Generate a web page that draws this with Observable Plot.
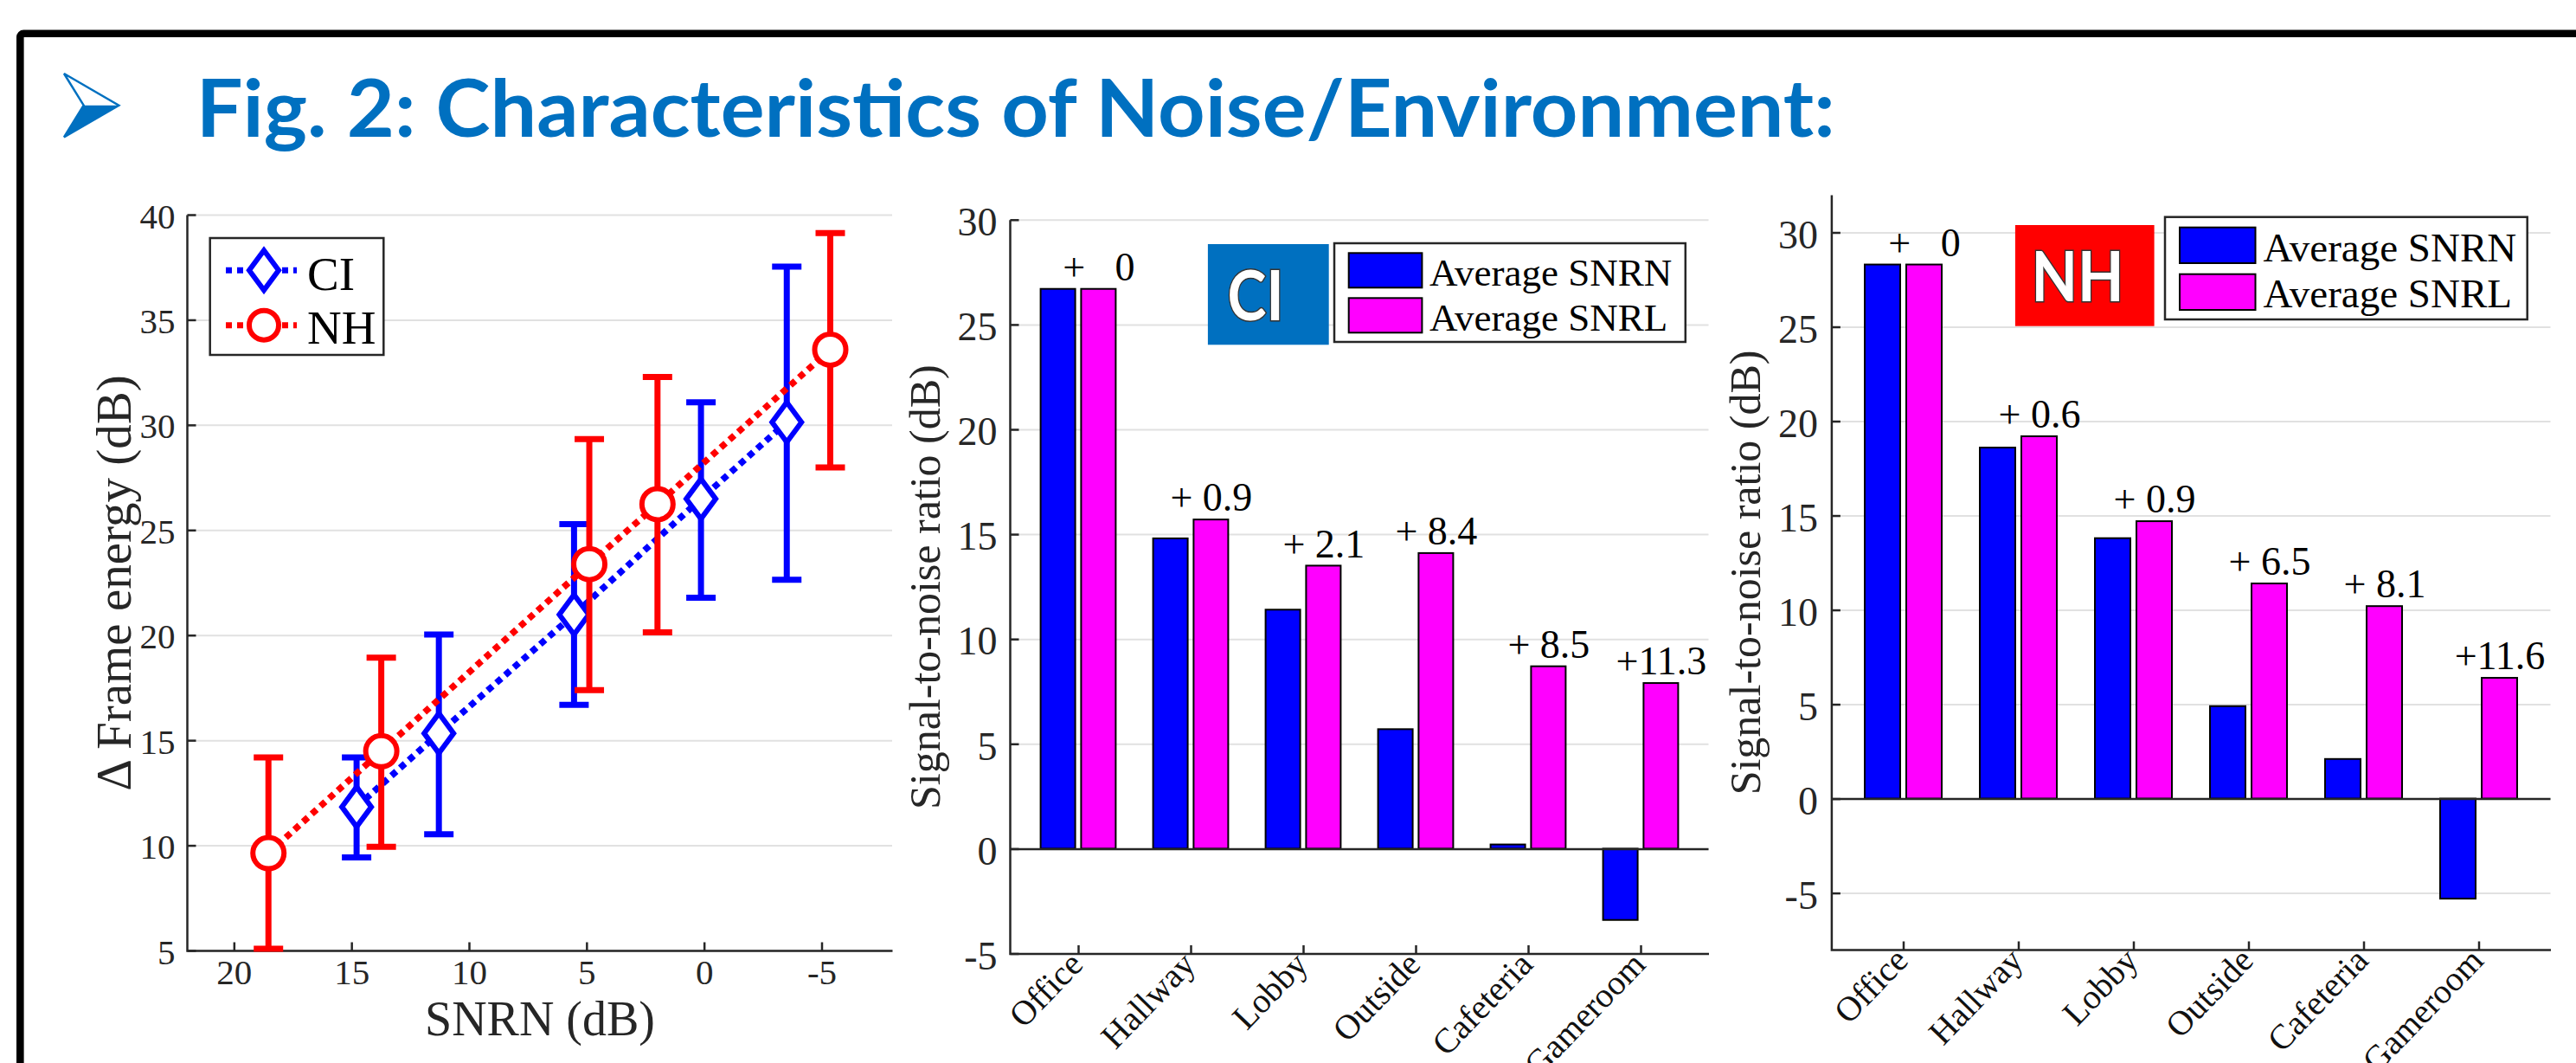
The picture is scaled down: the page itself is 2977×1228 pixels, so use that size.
<!DOCTYPE html>
<html>
<head>
<meta charset="utf-8">
<script src="https://cdn.jsdelivr.net/npm/d3@7"></script>
<script src="https://cdn.jsdelivr.net/npm/@observablehq/plot@0.6"></script>
<style>
html, body { margin: 0; padding: 0; background: #fff; }
#root { position: relative; width: 2977px; height: 1228px; overflow: hidden; background: #fff; }
#root > svg { position: absolute; top: 0; }
</style>
</head>
<body>
<div id="root"></div>
<script>
// ---------------- data ----------------
const titleText = "Fig. 2: Characteristics of Noise/Environment:";

// Panel 1: Δ frame energy vs SNRN
const snrnTicks = [20, 15, 10, 5, 0, -5];
const energyTicks = [5, 10, 15, 20, 25, 30, 35, 40];
const seriesNames = ["CI", "NH"];
const ciSNRN   = [14.8, 11.3, 5.55, 0.15, -3.5];
const ciEnergy = [11.85, 15.35, 21.0, 26.5, 30.15];
const ciLow    = [9.45, 10.55, 16.7, 21.8, 22.65];
const ciHigh   = [14.2, 20.05, 25.3, 31.1, 37.55];
const nhSNRN   = [18.55, 13.75, 4.9, 2.0, -5.35];
const nhEnergy = [9.65, 14.5, 23.4, 26.25, 33.6];
const nhLow    = [5.1, 9.95, 17.4, 20.15, 28.0];
const nhHigh   = [14.2, 18.95, 29.35, 32.3, 39.15];

// Panels 2 & 3: average SNR per environment
const environments = ["Office", "Hallway", "Lobby", "Outside", "Cafeteria", "Gameroom"];
const barSeries = ["Average SNRN", "Average SNRL"];
const ciAvgSNRN = [26.7, 14.8, 11.4, 5.7, 0.2, -3.4];
const ciAvgSNRL = [26.7, 15.7, 13.5, 14.1, 8.7, 7.9];
const ciGainLabels = ["+\u00A0\u00A0\u00A00", "+ 0.9", "+ 2.1", "+ 8.4", "+ 8.5", "+11.3"];
const nhAvgSNRN = [28.3, 18.6, 13.8, 4.9, 2.1, -5.3];
const nhAvgSNRL = [28.3, 19.2, 14.7, 11.4, 10.2, 6.4];
const nhGainLabels = ["+\u00A0\u00A0\u00A00", "+ 0.6", "+ 0.9", "+ 6.5", "+ 8.1", "+11.6"];
const snrTicks = [-5, 0, 5, 10, 15, 20, 25, 30];

// ---------------- styles ----------------
const blue = "#0000FF", red = "#FF0000", magenta = "#FF00FF";
const axisColor = "#262626", gridColor = "#e1e1e1";
const serif = "'Liberation Serif', 'Times New Roman', serif";
const H = 1228;
const root = document.getElementById("root");

// custom symbols (pixel sizes are styling)
const diamond = {draw(ctx) { const hw = 17, hh = 23; ctx.moveTo(0, -hh); ctx.lineTo(hw, 0); ctx.lineTo(0, hh); ctx.lineTo(-hw, 0); ctx.closePath(); }};
const circle = {draw(ctx) { ctx.moveTo(18, 0); ctx.arc(0, 0, 18, 0, 2 * Math.PI); }};
const cap = {draw(ctx) { ctx.moveTo(-17, 0); ctx.lineTo(17, 0); }};
const htick = {draw(ctx) { ctx.moveTo(0, 0); ctx.lineTo(10, 0); }};
const vtick = {draw(ctx) { ctx.moveTo(0, 0); ctx.lineTo(0, -10); }};

function axesLB(w, ml, mr, mt, mb) {
  const W = w - ml - mr, Hh = H - mt - mb;
  return Plot.frame({stroke: axisColor, strokeWidth: 2.5, strokeDasharray: `0,${W + Hh},${W + Hh + 10}`});
}
const baseStyle = {background: "transparent", overflow: "visible", fontFamily: serif, color: axisColor};

function place(svg, left) { svg.style.left = left + "px"; svg.style.top = "0px"; svg.style.position = "absolute"; root.appendChild(svg); }

// ---------------- Panel 1 ----------------
const ciRows = ciSNRN.map((x, i) => ({x, y: ciEnergy[i], lo: ciLow[i], hi: ciHigh[i]}));
const nhRows = nhSNRN.map((x, i) => ({x, y: nhEnergy[i], lo: nhLow[i], hi: nhHigh[i]}));

function errorSeries(rows, color, symbol) {
  return [
    Plot.ruleX(rows, {x: "x", y1: "lo", y2: "hi", stroke: color, strokeWidth: 7}),
    Plot.dot(rows, {x: "x", y: "lo", symbol: cap, fill: "none", stroke: color, strokeWidth: 7}),
    Plot.dot(rows, {x: "x", y: "hi", symbol: cap, fill: "none", stroke: color, strokeWidth: 7}),
    Plot.line(rows, {x: "x", y: "y", stroke: color, strokeWidth: 7.5, strokeDasharray: "7.5,6", strokeLinecap: "butt"}),
    Plot.dot(rows, {x: "x", y: "y", symbol, fill: "white", stroke: color, strokeWidth: 6})
  ];
}

const p1 = {w: 1040, ml: 216, mr: 9, mt: 248, mb: 130};
const chart1 = Plot.plot({
  width: p1.w, height: H, marginLeft: p1.ml, marginRight: p1.mr, marginTop: p1.mt, marginBottom: p1.mb,
  style: baseStyle,
  x: {type: "linear", domain: [22, -8], axis: null},
  y: {type: "linear", domain: [5, 40], axis: null},
  marks: [
    Plot.ruleY(energyTicks, {stroke: gridColor, strokeWidth: 2}),
    axesLB(p1.w, p1.ml, p1.mr, p1.mt, p1.mb),
    Plot.dot(snrnTicks, {x: d => d, frameAnchor: "bottom", symbol: vtick, fill: "none", stroke: axisColor, strokeWidth: 2.5}),
    Plot.dot(energyTicks, {y: d => d, frameAnchor: "left", symbol: htick, fill: "none", stroke: axisColor, strokeWidth: 2.5}),
    Plot.text(energyTicks, {y: d => d, frameAnchor: "left", text: d => String(d), textAnchor: "end", dx: -14, dy: 2, fontSize: 41, fill: axisColor}),
    Plot.text(snrnTicks, {x: d => d, frameAnchor: "bottom", text: d => String(d), textAnchor: "middle", dy: 38, fontSize: 41, fill: axisColor}),
    Plot.text(["SNRN (dB)"], {frameAnchor: "bottom", text: d => d, textAnchor: "middle", dy: 97, fontSize: 56, fill: axisColor}),
    Plot.text(["\u0394 Frame energy (dB)"], {frameAnchor: "left", text: d => d, textAnchor: "middle", rotate: -90, dx: -84, fontSize: 57, fill: axisColor}),
    ...errorSeries(ciRows, blue, diamond),
    ...errorSeries(nhRows, red, circle)
  ]
});
place(chart1, 0);

// ---------------- Panels 2 & 3 ----------------
function barPanel(cfg) {
  const rows = environments.map((e, i) => ({env: e, snrn: cfg.snrn[i], snrl: cfg.snrl[i], label: cfg.labels[i]}));
  return Plot.plot({
    width: cfg.w, height: H, marginLeft: cfg.ml, marginRight: cfg.mr, marginTop: cfg.mt, marginBottom: cfg.mb,
    style: baseStyle,
    x: {type: "band", domain: environments, paddingInner: 0.69, paddingOuter: 0.448, axis: null},
    y: {type: "linear", domain: cfg.ydomain, axis: null},
    marks: [
      Plot.ruleY(snrTicks, {stroke: gridColor, strokeWidth: 2}),
      Plot.barY(rows, {x: "env", y: "snrn", dx: -cfg.off, fill: blue, stroke: "#000", strokeWidth: 2}),
      Plot.barY(rows, {x: "env", y: "snrl", dx: cfg.off, fill: magenta, stroke: "#000", strokeWidth: 2}),
      Plot.ruleY([0], {stroke: axisColor, strokeWidth: 2.5}),
      axesLB(cfg.w, cfg.ml, cfg.mr, cfg.mt, cfg.mb),
      Plot.dot(environments, {x: d => d, frameAnchor: "bottom", symbol: vtick, fill: "none", stroke: axisColor, strokeWidth: 2.5}),
      Plot.dot(snrTicks, {y: d => d, frameAnchor: "left", symbol: htick, fill: "none", stroke: axisColor, strokeWidth: 2.5}),
      Plot.text(snrTicks, {y: d => d, frameAnchor: "left", text: d => String(d), textAnchor: "end", dx: cfg.tickDx, dy: 3, fontSize: 46, fill: axisColor}),
      Plot.text(environments, {x: d => d, frameAnchor: "bottom", text: d => d, rotate: -46, textAnchor: "end", dx: 7, dy: 14, fontSize: 40, fill: "#111"}),
      Plot.text(["Signal-to-noise ratio (dB)"], {frameAnchor: "left", text: d => d, textAnchor: "middle", rotate: -90, dx: cfg.labelDx, fontSize: 50, fill: axisColor}),
      Plot.text(rows, {x: "env", y: "snrl", text: "label", textAnchor: "middle", dx: cfg.off, dy: -25, fontSize: 46, fill: "#000"})
    ]
  });
}

const chart2 = barPanel({w: 950, ml: 127, mr: 15.5, mt: 253.8, mb: 126.5, ydomain: [-5, 30], off: 23.4,
  snrn: ciAvgSNRN, snrl: ciAvgSNRL, labels: ciGainLabels, tickDx: -15, labelDx: -98});
place(chart2, 1040);

const chart3 = barPanel({w: 987, ml: 126.4, mr: 29.5, mt: 224.9, mb: 131, ydomain: [-8, 32], off: 24,
  snrn: nhAvgSNRN, snrl: nhAvgSNRL, labels: nhGainLabels, tickDx: -16, labelDx: -99});
place(chart3, 1990);

// ---------------- overlay: frame, title, legends, badges ----------------
const ov = d3.create("svg").attr("width", 2977).attr("height", H)
  .style("position", "absolute").style("left", "0px").style("top", "0px");

ov.append("rect").attr("x", 23.3).attr("y", 38.8).attr("width", 3100).attr("height", 1400).attr("rx", 4)
  .attr("fill", "none").attr("stroke", "#000").attr("stroke-width", 8.6);

const titleBlue = "#0070C0";
ov.append("path").attr("d", "M74,85 L137.3,121.7 L74,158.3 L96.7,121.7 Z")
  .attr("fill", "white").attr("stroke", titleBlue).attr("stroke-width", 2.5).attr("stroke-linejoin", "miter");
ov.append("path").attr("d", "M96.7,121.7 L137.3,121.7 L74,158.3 Z").attr("fill", titleBlue);
ov.append("text").attr("x", 226.7).attr("y", 158.3)
  .attr("font-family", "Lato, 'Open Sans', sans-serif").attr("font-weight", 700).attr("font-size", 91)
  .attr("fill", titleBlue).attr("textLength", 1894).attr("lengthAdjust", "spacingAndGlyphs").text(titleText);

// legend panel 1
ov.append("rect").attr("x", 242.7).attr("y", 275).attr("width", 200.6).attr("height", 135)
  .attr("fill", "white").attr("stroke", axisColor).attr("stroke-width", 2.5);
[[seriesNames[0], blue, 312.3, 335, "d"], [seriesNames[1], red, 375.7, 396.7, "c"]].forEach(([name, col, ly, by, m]) => {
  ov.append("line").attr("x1", 261).attr("x2", 343).attr("y1", ly).attr("y2", ly)
    .attr("stroke", col).attr("stroke-width", 7).attr("stroke-dasharray", "7,6");
  if (m === "d") {
    ov.append("path").attr("d", `M305,${ly - 23} L322,${ly} L305,${ly + 23} L288,${ly} Z`)
      .attr("fill", "white").attr("stroke", col).attr("stroke-width", 6);
  } else {
    ov.append("circle").attr("cx", 305).attr("cy", ly).attr("r", 17)
      .attr("fill", "white").attr("stroke", col).attr("stroke-width", 6);
  }
  ov.append("text").attr("x", 355).attr("y", by).attr("font-family", serif).attr("font-size", 55)
    .attr("fill", "#000").text(name);
});

// bar legends
function barLegend(b) {
  ov.append("rect").attr("x", b.x).attr("y", b.y).attr("width", b.w).attr("height", b.h)
    .attr("fill", "white").attr("stroke", axisColor).attr("stroke-width", 2.5);
  [[barSeries[0], blue, b.s1, b.t1], [barSeries[1], magenta, b.s2, b.t2]].forEach(([name, col, sy, ty]) => {
    ov.append("rect").attr("x", b.sx).attr("y", sy).attr("width", b.sw).attr("height", b.sh)
      .attr("fill", col).attr("stroke", "#000").attr("stroke-width", 2);
    ov.append("text").attr("x", b.tx).attr("y", ty).attr("font-family", serif).attr("font-size", b.fs)
      .attr("fill", "#000").text(name);
  });
}
barLegend({x: 1542, y: 281, w: 405.8, h: 114, sx: 1558.7, sw: 84.7, sh: 40, s1: 292.3, s2: 344.3, tx: 1651.9, t1: 330, t2: 381.7, fs: 45});
barLegend({x: 2502, y: 250.7, w: 418.7, h: 118.3, sx: 2519, sw: 87.5, sh: 41.3, s1: 262.7, s2: 316.7, tx: 2615.4, t1: 301.7, t2: 355, fs: 47});

// badges
function badge(x, y, w, h, fill, label, cx, base, tl) {
  ov.append("rect").attr("x", x).attr("y", y).attr("width", w).attr("height", h).attr("fill", fill);
  ov.append("text").attr("x", cx).attr("y", base).attr("text-anchor", "middle")
    .attr("font-family", "Lato, 'Open Sans', sans-serif").attr("font-weight", 700).attr("font-size", 81)
    .attr("fill", "white").attr("stroke", "#333").attr("stroke-width", 3).attr("paint-order", "stroke")
    .attr("textLength", tl).attr("lengthAdjust", "spacingAndGlyphs").text(label);
}
badge(1395.9, 282, 139.8, 116.3, "#0070C0", seriesNames[0], 1451, 370, 65);
badge(2328.9, 260, 160.7, 116.7, "#FF0000", seriesNames[1], 2401, 348.3, 107);

root.appendChild(ov.node());
</script>
</body>
</html>
